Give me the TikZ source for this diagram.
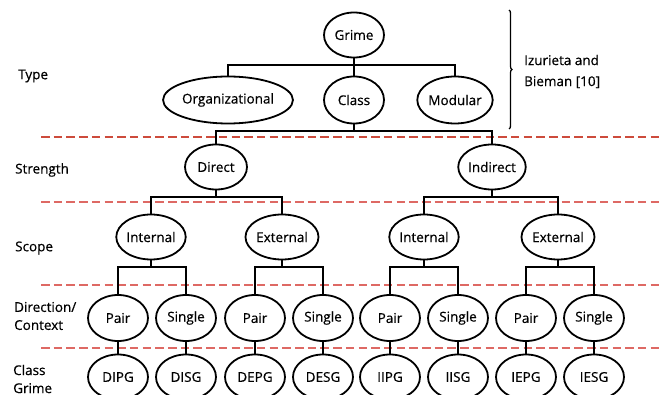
\documentclass[tikz,border=0pt]{standalone}
\usepackage{fontspec}
\setmainfont{Open Sans}[FakeBold=0.5]
\usetikzlibrary{shapes.geometric,decorations.pathreplacing}
\definecolor{dashA}{RGB}{205,75,60}
\definecolor{dashB}{RGB}{222,105,100}
\begin{document}
\begin{tikzpicture}[x=1pt,y=-1pt,
  el/.style={draw,ellipse,line width=1.8pt,inner sep=0pt,minimum height=45pt,minimum width=60pt,font=\fontsize{13.5}{16}\selectfont},
  conn/.style={line width=1.8pt},
  sep/.style={dashB,dashed,line width=1.1pt,dash pattern=on 8.5pt off 4.2pt},
  lab/.style={anchor=west,align=left,inner sep=0pt,font=\fontsize{13.5}{18}\selectfont}]
\useasboundingbox (0,0) rectangle (659,395);
% separators
\draw[sep,dashA] (41,137) -- (659,137);
\draw[sep] (41,202) -- (659,202);
\draw[sep] (41,285) -- (659,285);
\draw[sep] (41,348) -- (659,348);
% nodes
\node[el] (grime) at (354,35) {Grime};
\node[el,minimum width=122pt,minimum height=47pt] (org) at (228,100) {Organizational};
\node[el,minimum height=47pt] (cls) at (354,100) {Class};
\node[el,minimum width=72pt,minimum height=47pt] (mod) at (455,100) {Modular};
\node[el,minimum width=62pt] (dir) at (216,167) {Direct};
\node[el,minimum width=62pt] (ind) at (492,167) {Indirect};
\node[el,minimum width=62pt] (di) at (151,237) {Internal};
\node[el,minimum width=62pt] (de) at (282,237) {External};
\node[el,minimum width=62pt] (ii) at (424,237) {Internal};
\node[el,minimum width=62pt] (ie) at (558,237) {External};
\node[el,minimum height=46pt] (dip) at (118,318) {Pair};
\node[el,minimum height=46pt] (dis) at (186,318) {Single};
\node[el,minimum height=46pt] (dep) at (255,318) {Pair};
\node[el,minimum height=46pt] (des) at (323,318) {Single};
\node[el,minimum height=46pt] (iip) at (390,318) {Pair};
\node[el,minimum height=46pt] (iis) at (458,318) {Single};
\node[el,minimum height=46pt] (iep) at (526,318) {Pair};
\node[el,minimum height=46pt] (ies) at (594,318) {Single};
\node[el] (dipg) at (118,377) {DIPG};
\node[el] (disg) at (186,377) {DISG};
\node[el] (depg) at (255,377) {DEPG};
\node[el] (desg) at (323,377) {DESG};
\node[el] (iipg) at (390,377) {IIPG};
\node[el] (iisg) at (458,377) {IISG};
\node[el] (iepg) at (526,377) {IEPG};
\node[el] (iesg) at (594,377) {IESG};
% bar coordinates
\coordinate (bt) at (0,65);
\coordinate (bs) at (0,131);
\coordinate (bc) at (0,197);
\coordinate (bd) at (0,267);
% connectors
\draw[conn] (grime.south) -- (cls.north);
\draw[conn] (org.north) -- (org.north |- bt) -| (mod.north);
\draw[conn] (cls.south) -- (cls.south |- bs);
\draw[conn] (dir.north) -- (dir.north |- bs) -| (ind.north);
\draw[conn] (dir.south) -- (dir.south |- bc);
\draw[conn] (di.north) -- (di.north |- bc) -| (de.north);
\draw[conn] (ind.south) -- (ind.south |- bc);
\draw[conn] (ii.north) -- (ii.north |- bc) -| (ie.north);
\foreach \p/\a/\b in {di/dip/dis,de/dep/des,ii/iip/iis,ie/iep/ies}{
  \draw[conn] (\p.south) -- (\p.south |- bd);
  \draw[conn] (\a.north) -- (\a.north |- bd) -| (\b.north);
}
\foreach \a/\b in {dip/dipg,dis/disg,dep/depg,des/desg,iip/iipg,iis/iisg,iep/iepg,ies/iesg}{
  \draw[conn] (\a.south) -- (\b.north);
}
% brace
\draw[line width=1.3pt,decorate,decoration={brace,amplitude=3pt}] (509,10) -- (509,129) coordinate (brb);
\node[lab,font=\fontsize{13.5}{21}\selectfont] (ref) at (524,71.5) {Izurieta and\\Bieman [10]};
% level labels
\node[lab] (ltype) at (18,76) {Type};
\node[lab] (lstr) at (15,170) {Strength};
\node[lab] (lscope) at (15,248) {Scope};
\node[lab] (ldir) at (14,316) {Direction/\\Context};
\node[lab] (lcg) at (13,379) {Class\\Grime};
\end{tikzpicture}
\end{document}
